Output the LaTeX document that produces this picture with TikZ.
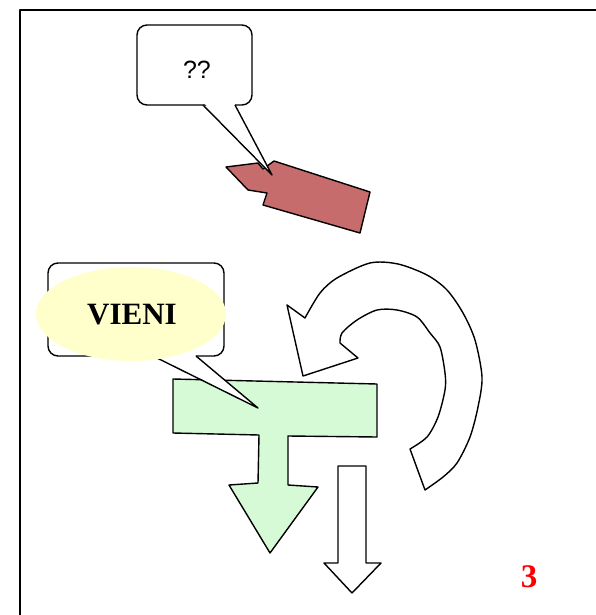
\documentclass[tikz,border=0pt]{standalone}
\usepackage{fontspec}
\setmainfont{Liberation Serif}
\newfontfamily\talkfont{Liberation Sans}
\definecolor{tagred}{RGB}{198,108,108}
\definecolor{tgreen}{RGB}{214,250,214}
\definecolor{vyellow}{RGB}{255,255,204}
\begin{document}
\begin{tikzpicture}[x=1pt,y=-1pt,line join=round,
  outline/.style={draw=black,line width=1.4pt},
  callout/.style={outline,fill=white,rounded corners=10}]
  \useasboundingbox (0,0) rectangle (596,615);
  \draw[line width=2pt] (596,10) -- (20,10) -- (20,615);
  \draw[outline,fill=tagred] (226,167) -- (258,163) -- (263,169) -- (274,161)
    -- (370,192) -- (360,233) -- (263,205) -- (267,193) -- (248,190) -- cycle;
  \node[callout,minimum width=115,minimum height=80] (qbox) at (194.5,65) {};
  \node[font=\talkfont\fontsize{25}{25}\selectfont] (qq) at (197,70) {??};
  \coordinate (qtip) at (272,175);
  \fill[white] (204,103) -- (qtip) -- (234,103) -- cycle;
  \draw[outline] (203,105) -- (qtip) -- (235,105);
  \draw[outline,fill=white] (303,376) -- (287,305) -- plot[smooth] coordinates {
      (305,318) (320,293) (337,278) (370,263) (398,264) (427,275) (447,290)
      (463,313) (475,340) (482,377) (478,407) (470,437) (457,463) (443,477) (425,490)}
    -- plot[smooth] coordinates {
      (410,449) (427,437) (438,417) (445,390) (445,373) (440,347) (430,333)
      (417,317) (397,310) (377,310) (357,320) (342,333) (340,343)}
    -- (358,358) -- cycle;
  \draw[outline,fill=tgreen] (173,379) -- (377,384) -- (377,437) -- (288,436)
    -- (288,485) -- (318,487) -- (270,553) -- (229,485) -- (258,483)
    -- (259,435) -- (173,433) -- cycle;
  \node[callout,minimum width=176,minimum height=93] (vbox) at (136,309.5) {};
  \coordinate (vtip) at (258,408);
  \fill[white] (154,355) -- (vtip) -- (195,355) -- cycle;
  \draw[outline] (153,356) -- (vtip) -- (196,356);
  \fill[vyellow] (131,314) ellipse [x radius=95,y radius=47];
  \node[font=\bfseries\fontsize{31}{31}\selectfont] (vieni) at (132,315) {VIENI};
  \draw[outline,fill=white] (338,466) -- (366,466) -- (366,563) -- (381,563)
    -- (352,593) -- (324,563) -- (338,563) -- cycle;
  \node[text=red,font=\bfseries\fontsize{33}{33}\selectfont] (num) at (529,577) {3};
\end{tikzpicture}
\end{document}
